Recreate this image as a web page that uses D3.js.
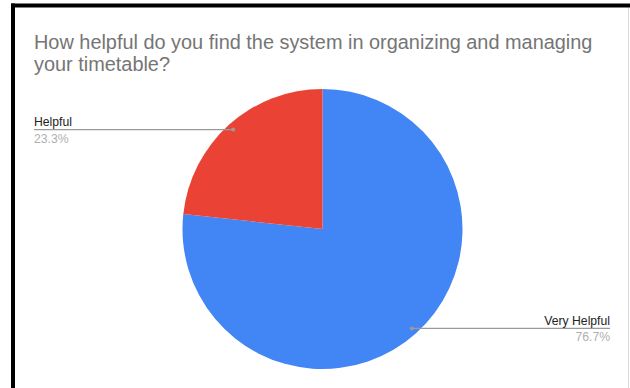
<!DOCTYPE html>
<html>
<head>
<meta charset="utf-8">
<script src="https://cdn.jsdelivr.net/npm/d3@7"></script>
<style>
  html, body { margin: 0; padding: 0; background: #fff; }
  svg { display: block; }
</style>
</head>
<body>
<svg id="chart" width="630" height="388"></svg>
<script>
// Survey answers and their share of responses (percent)
const categories = ["Very Helpful", "Helpful"];
const shares = [76.7, 23.3];
const sliceColors = ["#4285f4", "#ea4335"];
const titleLines = [
  "How helpful do you find the system in organizing and managing",
  "your timetable?"
];

const W = 630, H = 388;
const svg = d3.select("#chart");
const font = "Arial, 'Liberation Sans', sans-serif";

// frame around the chart
svg.append("rect").attr("x", 0).attr("y", 0).attr("width", W).attr("height", H).attr("fill", "#fff");
svg.append("line").attr("x1", 628.5).attr("x2", 628.5).attr("y1", 7).attr("y2", H)
  .attr("stroke", "#dadada").attr("stroke-width", 1);
svg.append("rect").attr("x", 11).attr("y", 3.5).attr("width", W - 11).attr("height", 4).attr("fill", "#000");
svg.append("rect").attr("x", 11).attr("y", 3.5).attr("width", 4).attr("height", H).attr("fill", "#000");

// title
svg.append("text")
  .attr("x", 34).attr("y", 49)
  .attr("font-family", font).attr("font-size", 19.9).attr("fill", "#757575")
  .selectAll("tspan").data(titleLines).join("tspan")
  .attr("x", 34).attr("dy", (d, i) => i === 0 ? 0 : 22)
  .text(d => d);

// pie
const cx = 322.5, cy = 229, r = 140;
const data = categories.map((c, i) => ({ name: c, value: shares[i], color: sliceColors[i] }));
const pie = d3.pie().value(d => d.value).sort(null).startAngle(0).endAngle(2 * Math.PI);
const arcs = pie(data);
const arc = d3.arc().innerRadius(0).outerRadius(r);

const g = svg.append("g").attr("transform", `translate(${cx},${cy})`);
g.selectAll("path").data(arcs).join("path")
  .attr("d", arc)
  .attr("fill", d => d.data.color);

// leader lines and labels
const dotR = r * 0.955;
const leaderColor = "#9a9a9a";
const labelX = { "Very Helpful": 610, "Helpful": 34 };

arcs.forEach(a => {
  const mid = (a.startAngle + a.endAngle) / 2;
  const px = cx + Math.sin(mid) * dotR;
  const py = cy - Math.cos(mid) * dotR;
  const right = Math.sin(mid) > 0;
  const tx = labelX[a.data.name];
  svg.append("line")
    .attr("x1", px).attr("y1", py).attr("x2", tx).attr("y2", py)
    .attr("stroke", leaderColor).attr("stroke-width", 1.3);
  svg.append("circle").attr("cx", px).attr("cy", py).attr("r", 2).attr("fill", leaderColor);
  svg.append("text")
    .attr("x", tx).attr("y", py - 3.5)
    .attr("text-anchor", right ? "end" : "start")
    .attr("font-family", font).attr("font-size", 12.2).attr("fill", "#222")
    .text(a.data.name);
  svg.append("text")
    .attr("x", tx).attr("y", py + 13)
    .attr("text-anchor", right ? "end" : "start")
    .attr("font-family", font).attr("font-size", 12.2).attr("fill", "#b0b0b0")
    .text(d3.format(".1f")(a.data.value) + "%");
});
</script>
</body>
</html>
